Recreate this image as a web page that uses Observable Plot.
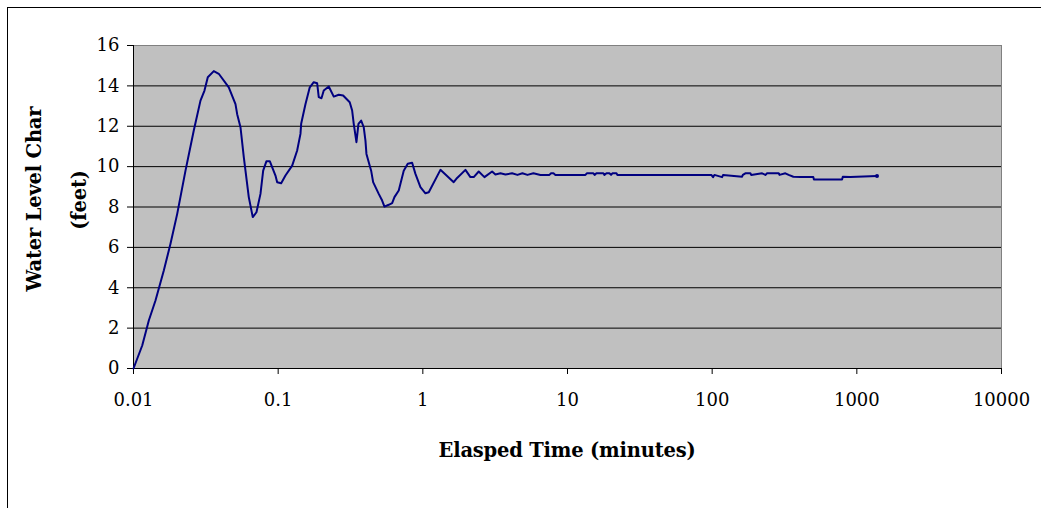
<!DOCTYPE html>
<html>
<head>
<meta charset="utf-8">
<script src="https://cdn.jsdelivr.net/npm/d3@7"></script>
<script src="https://cdn.jsdelivr.net/npm/@observablehq/plot@0.6"></script>
<style>
  html, body { margin: 0; padding: 0; background: #fff; }
  #wrap { position: relative; width: 1041px; height: 508px; overflow: hidden; }
  #border { position: absolute; left: 7px; top: 7px; width: 1100px; height: 600px;
            border-left: 1px solid #000; border-top: 1px solid #000; box-sizing: border-box; }
  #chart { position: absolute; left: 0; top: 0; }
</style>
</head>
<body>
<div id="wrap"><div id="border"></div><div id="chart"></div></div>
<script>
const elapsedMinutes = [0.01, 0.01149, 0.01276, 0.01419, 0.0162, 0.018, 0.02005, 0.02288, 0.0261, 0.02904,
  0.03095, 0.03262, 0.03589, 0.03886, 0.04556, 0.05069, 0.05208, 0.0549, 0.05786, 0.06264,
  0.06675, 0.07079, 0.07546, 0.07877, 0.08301, 0.0875, 0.09579, 0.09842, 0.1049, 0.1123,
  0.125, 0.1353, 0.1426, 0.1442, 0.1545, 0.1654, 0.1762, 0.186, 0.1908, 0.1992,
  0.2066, 0.2237, 0.2423, 0.2623, 0.2813, 0.3124, 0.3246, 0.333, 0.3476, 0.3589,
  0.3747, 0.3905, 0.4012, 0.4076, 0.4392, 0.4534, 0.4957, 0.5232, 0.5428, 0.5812,
  0.6136, 0.6365, 0.6815, 0.7379, 0.7864, 0.8433, 0.889, 0.9625, 1.042, 1.099,
  1.323, 1.635, 1.726, 1.97, 2.133, 2.248, 2.434, 2.666, 3.012, 3.175,
  3.439, 3.724, 4.141, 4.507, 4.88, 5.284, 5.812, 6.497, 7.5, 7.7,
  8.0, 8.25, 13.3, 13.6, 15.1, 15.4, 15.84, 17.7, 18.0, 18.6,
  19.48, 20.0, 20.43, 21.8, 22.13, 98.7, 101.4, 103.6, 117.1, 119,
  161, 163, 169.6, 183.7, 186, 221.3, 233.2, 239.6, 288.2, 292,
  320.5, 337.8, 364.1, 406.9, 500.5, 505, 790.3, 800, 901.6, 1379];
const waterLevelFeet = [0, 1.14, 2.38, 3.37, 4.85, 6.17, 7.66, 9.8, 11.79, 13.27,
  13.77, 14.43, 14.73, 14.6, 13.93, 13.1, 12.6, 11.95, 10.47, 8.49,
  7.5, 7.74, 8.65, 9.8, 10.27, 10.27, 9.56, 9.23, 9.18, 9.56,
  10.05, 10.8, 11.62, 12.12, 13.1, 13.93, 14.18, 14.13, 13.44, 13.39,
  13.77, 13.97, 13.47, 13.56, 13.52, 13.19, 12.78, 12.12, 11.21, 12.12,
  12.28, 11.95, 11.29, 10.63, 9.8, 9.23, 8.65, 8.32, 8.02, 8.11,
  8.19, 8.49, 8.82, 9.8, 10.14, 10.19, 9.64, 8.98, 8.68, 8.73,
  9.84, 9.23, 9.44, 9.84, 9.48, 9.48, 9.76, 9.48, 9.76, 9.61,
  9.67, 9.61, 9.67, 9.59, 9.67, 9.59, 9.67, 9.59, 9.59, 9.67,
  9.67, 9.59, 9.59, 9.67, 9.67, 9.59, 9.67, 9.67, 9.59, 9.67,
  9.67, 9.59, 9.67, 9.67, 9.59, 9.59, 9.48, 9.59, 9.48, 9.59,
  9.5, 9.59, 9.67, 9.67, 9.59, 9.67, 9.59, 9.67, 9.67, 9.59,
  9.67, 9.59, 9.5, 9.48, 9.48, 9.36, 9.36, 9.5, 9.48, 9.54];

const xTicks = [0.01, 0.1, 1, 10, 100, 1000, 10000];
const xTickLabels = ["0.01", "0.1", "1", "10", "100", "1000", "10000"];
const yTicks = [0, 2, 4, 6, 8, 10, 12, 14, 16];
const gridLevels = [2, 4, 6, 8, 10, 12, 14];
const xTitle = "Elasped Time (minutes)";
const yTitleLines = ["Water Level Char", "(feet)"];

const data = elapsedMinutes.map((t, i) => ({t, v: waterLevelFeet[i]}));
const last = [data[data.length - 1]];
const xLabelOf = new Map(xTicks.map((d, i) => [d, xTickLabels[i]]));

const W = 1041, H = 508;
const mL = 133, mR = 40, mT = 45, mB = 140;
const FONT = "DejaVu Serif";

const chart = Plot.plot({
  width: W, height: H,
  marginLeft: mL, marginRight: mR, marginTop: mT, marginBottom: mB,
  style: {fontFamily: FONT, fontSize: "18px", color: "#000", background: "transparent"},
  x: {type: "log", domain: [0.01, 10000], label: null},
  y: {domain: [0, 16], label: null},
  marks: [
    Plot.frame({fill: "#c0c0c0", stroke: "#808080"}),
    Plot.ruleY(gridLevels, {stroke: "#000", strokeWidth: 1}),
    Plot.ruleX([0.01], {stroke: "#000"}),
    Plot.ruleY([0], {stroke: "#000"}),
    Plot.axisX(xTicks, {tickSize: 6, tickPadding: 19, tickFormat: d => xLabelOf.get(d) ?? String(d), fontSize: 18, label: null}),
    Plot.axisY(yTicks, {tickSize: 6, tickPadding: 8, fontSize: 18, label: null}),
    Plot.line(data, {x: "t", y: "v", stroke: "#000080", strokeWidth: 2, curve: "linear"}),
    Plot.dot(last, {x: "t", y: "v", r: 2, fill: "#000080", stroke: null})
  ]
});

const svg = d3.select(chart);
function title(tx, ty, rot, txt) {
  svg.append("text")
    .attr("transform", `translate(${tx},${ty})` + (rot ? ` rotate(${rot})` : ""))
    .attr("text-anchor", "middle").attr("dominant-baseline", "middle")
    .style("font-family", FONT).style("font-weight", "bold").style("font-size", "19.5px")
    .style("letter-spacing", "-0.2px")
    .text(txt);
}
title((mL + (W - mR)) / 2, 451, 0, xTitle);
title(35, 199, -90, yTitleLines[0]);
title(80, 200, -90, yTitleLines[1]);

document.getElementById("chart").appendChild(chart);
</script>
</body>
</html>
